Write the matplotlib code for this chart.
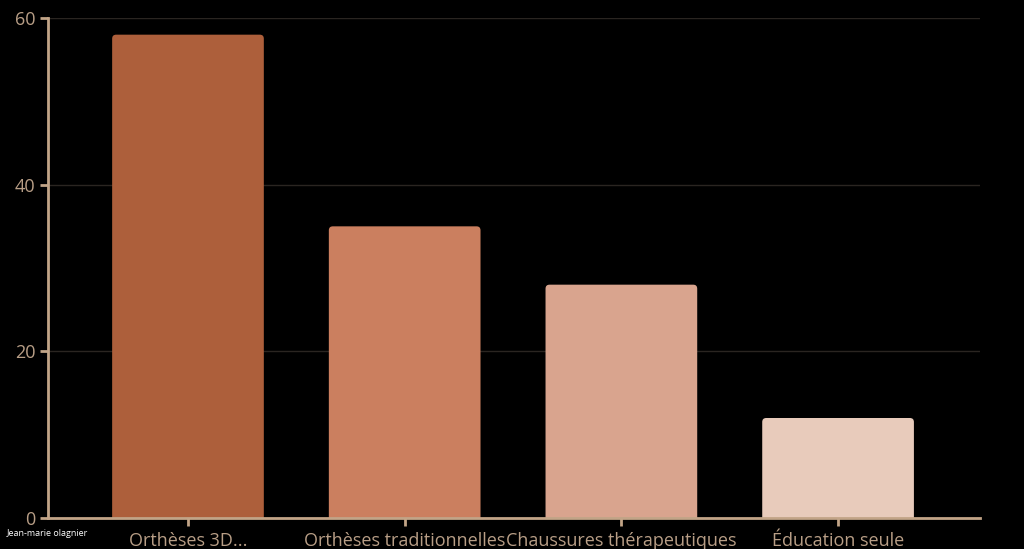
import matplotlib
matplotlib.use("Agg")
import matplotlib.pyplot as plt
from matplotlib.patches import FancyBboxPatch

categories = ["Orthèses 3D...", "Orthèses traditionnelles", "Chaussures thérapeutiques", "Éducation seule"]
values = [58, 35, 28, 12]
colors = ["#ad5f3b", "#cb7f5f", "#d9a48e", "#e8cbbb"]
yticks = [0, 20, 40, 60]

plt.rcParams['font.family'] = ['Open Sans', 'DejaVu Sans']

W, H = 1024, 549
fig = plt.figure(figsize=(W/100, H/100), dpi=100, facecolor="black")
L, R, B, T = 48, 980, 518, 18
ax = fig.add_axes([L/W, 1 - B/H, (R-L)/W, (B-T)/H], facecolor="black")

xlo, xhi = -0.646, 3.655
ax.set_xlim(xlo, xhi)
ax.set_ylim(0, 60)

axis_col = "#c2a487"
label_col = "#b89e86"

ax.set_yticks(yticks)
ax.grid(axis="y", color="#2a2521", linewidth=1)
ax.set_axisbelow(True)

bw = 0.70
px_per_x = (R - L) / (xhi - xlo)
px_per_y = (B - T) / 60
aspect = px_per_x / px_per_y
r = 4 / px_per_x
for i, (v, c) in enumerate(zip(values, colors)):
    p = FancyBboxPatch((i - bw/2, -2), bw, v + 2,
                       boxstyle=f"round,pad=0,rounding_size={r}",
                       mutation_aspect=aspect, facecolor=c, edgecolor="none",
                       clip_on=True, zorder=2)
    ax.add_patch(p)

ax.set_xticks(range(len(categories)))
ax.set_xticklabels(categories)

for s in ["top", "right"]:
    ax.spines[s].set_visible(False)
for s in ["left", "bottom"]:
    ax.spines[s].set_color(axis_col)
    ax.spines[s].set_linewidth(2)
    ax.spines[s].set_zorder(3)

ax.tick_params(axis="both", colors=axis_col, labelcolor=label_col, labelsize=13,
               length=6, width=2, pad=3)
ax.tick_params(axis="x", pad=4)

fig.text(7/W, 1 - 533/H, "Jean-marie olagnier", color="white", fontsize=6.5,
         va="center", ha="left")

fig.savefig("out.png", dpi=100, facecolor="black")
